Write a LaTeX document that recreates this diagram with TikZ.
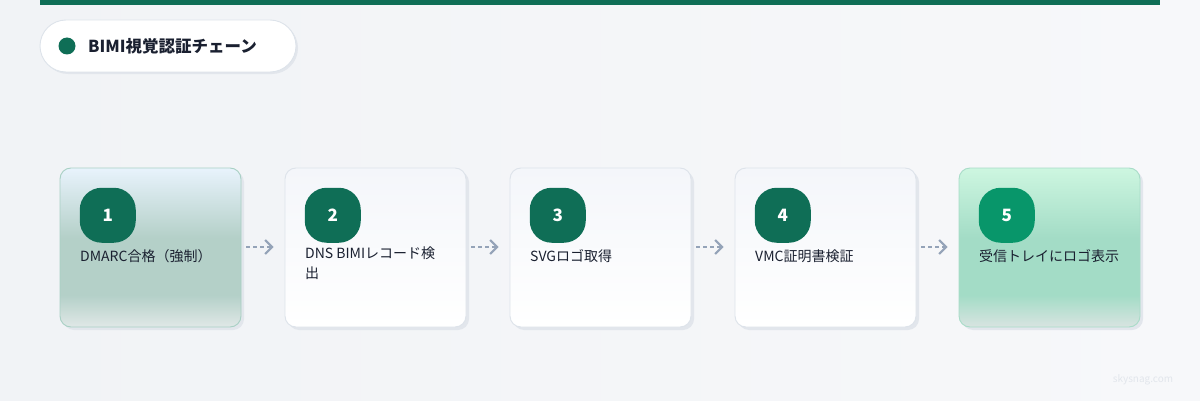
\documentclass[tikz,border=0pt]{standalone}
\usepackage{fontspec}
\setmainfont{Noto Sans CJK JP}
\usetikzlibrary{arrows.meta,shadows}

\definecolor{bimigreen}{RGB}{15,110,86}
\definecolor{bimibright}{RGB}{8,150,106}
\definecolor{inkdark}{RGB}{26,32,48}
\definecolor{arrowgray}{RGB}{148,163,184}
\definecolor{cardline}{RGB}{221,227,234}
\definecolor{shadowgray}{RGB}{226,230,236}
% card shadings
\definecolor{onetop}{RGB}{232,243,252}
\definecolor{onemid}{RGB}{180,208,200}
\definecolor{onebot}{RGB}{224,232,231}
\definecolor{fivetop}{RGB}{205,246,224}
\definecolor{fivemid}{RGB}{163,220,198}
\definecolor{fivebot}{RGB}{216,228,225}
\pgfdeclareverticalshading{cardone}{100bp}{color(0bp)=(onebot); color(25bp)=(onebot); color(35bp)=(onemid); color(53bp)=(onemid); color(75bp)=(onetop); color(100bp)=(onetop)}
\pgfdeclareverticalshading{cardfive}{100bp}{color(0bp)=(fivebot); color(25bp)=(fivebot); color(35bp)=(fivemid); color(53bp)=(fivemid); color(75bp)=(fivetop); color(100bp)=(fivetop)}

\tikzset{
  card/.style={rounded corners=11pt, minimum width=181pt, minimum height=159pt, line width=0.9pt,
    drop shadow={shadow xshift=3pt, shadow yshift=-3pt, fill=shadowgray, opacity=1}},
  plaincard/.style={card, draw=cardline, top color={rgb,255:red,244;green,246;blue,250}, bottom color=white},
  badge/.style={rounded corners=22pt, minimum width=56pt, minimum height=55pt, fill=bimigreen,
    text=white, font=\bfseries\fontsize{17}{17}\selectfont, anchor=north west},
  steplabel/.style={anchor=west, align=left, text=inkdark, font=\fontsize{14}{20}\selectfont, inner sep=0pt},
  flow/.style={arrowgray, line width=1.5pt, dash pattern={on 4pt off 3pt}, shorten <=5pt, shorten >=11pt,
    -{Straight Barb[length=7pt,width=14pt,line width=2pt]}}
}

\begin{document}
\begin{tikzpicture}[x=1pt,y=1pt]
\useasboundingbox (0,0) rectangle (1200,400);

% background
\shade[left color={rgb,255:red,241;green,243;blue,246}, right color={rgb,255:red,247;green,248;blue,250}] (0,0) rectangle (1200,400);
\fill[bimigreen] (40,395) rectangle (1160,400);

% Title pill
\node[draw=cardline, fill=white, rounded corners=26pt, minimum width=256pt, minimum height=52pt, line width=0.9pt,
  drop shadow={shadow xshift=2pt, shadow yshift=-2pt, fill=shadowgray, opacity=1}] (title) at (168,354) {};
\node[circle, fill=bimigreen, minimum size=17pt, inner sep=0pt] (dot) at (67,354) {};
\node[anchor=west, inner sep=0pt, text=inkdark, font=\bfseries\fontsize{16.5}{16.5}\selectfont] (titletext) at (88,354) {BIMI視覚認証チェーン};

% Cards
\node[card, draw={rgb,255:red,168;green,208;blue,196}, shading=cardone] (c1) at (150.5,152.5) {};
\node[plaincard] (c2) at (375.5,152.5) {};
\node[plaincard] (c3) at (600.5,152.5) {};
\node[plaincard] (c4) at (825.5,152.5) {};
\node[card, draw={rgb,255:red,168;green,220;blue,200}, shading=cardfive] (c5) at (1049.5,152.5) {};

% Badges
\node[badge] (b1) at ([shift={(20pt,-20pt)}]c1.north west) {1};
\node[badge] (b2) at ([shift={(20pt,-20pt)}]c2.north west) {2};
\node[badge] (b3) at ([shift={(20pt,-20pt)}]c3.north west) {3};
\node[badge] (b4) at ([shift={(20pt,-20pt)}]c4.north west) {4};
\node[badge, fill=bimibright] (b5) at ([shift={(20pt,-20pt)}]c5.north west) {5};

% Text Node
\node[steplabel] (t1) at (80,144) {DMARC合格（強制）};
\node[steplabel, anchor=north west] (t2) at (305,153) {DNS BIMIレコード検\\出};
\node[steplabel] (t3) at (530,144) {SVGロゴ取得};
\node[steplabel] (t4) at (755,144) {VMC証明書検証};
\node[steplabel] (t5) at (979,144) {受信トレイにロゴ表示};

% Arrows
\draw[flow] (c1.east |- 0,153) -- (c2.west |- 0,153);
\draw[flow] (c2.east |- 0,153) -- (c3.west |- 0,153);
\draw[flow] (c3.east |- 0,153) -- (c4.west |- 0,153);
\draw[flow] (c4.east |- 0,153) -- (c5.west |- 0,153);

% watermark
\node[text={rgb,255:red,226;green,230;blue,236}, font=\fontsize{10}{10}\selectfont] (mark) at (1143,20) {skysnag.com};
\end{tikzpicture}
\end{document}
